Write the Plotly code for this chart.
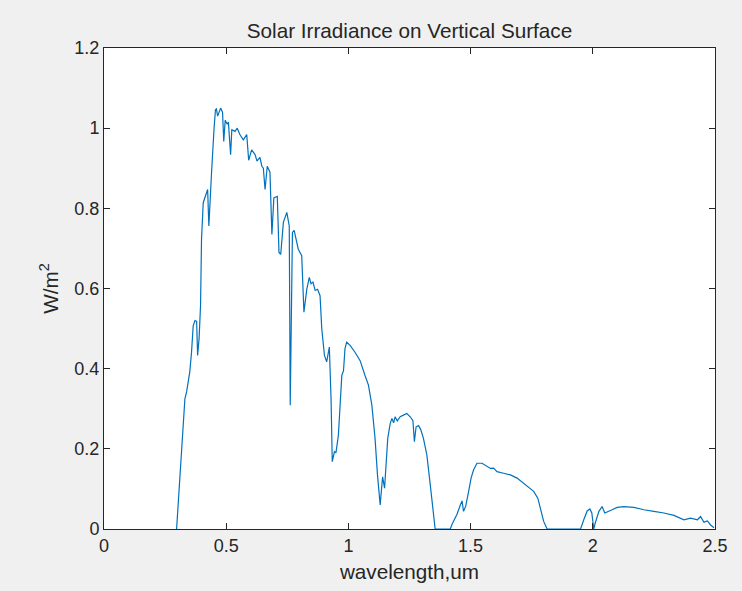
import plotly.graph_objects as go

wavelength = [0.297, 0.303, 0.318, 0.331, 0.338, 0.344, 0.351, 0.358, 0.365, 0.372, 0.379, 0.383,
              0.389, 0.395, 0.399, 0.406, 0.415, 0.424, 0.429, 0.433, 0.44, 0.45, 0.456, 0.46,
              0.465, 0.477, 0.485, 0.49, 0.496, 0.504, 0.509, 0.518, 0.523, 0.536, 0.545, 0.556,
              0.57, 0.584, 0.592, 0.604, 0.618, 0.626, 0.638, 0.646, 0.652, 0.659, 0.668, 0.679,
              0.687, 0.695, 0.709, 0.716, 0.723, 0.734, 0.748, 0.758, 0.762, 0.771, 0.778, 0.795,
              0.809, 0.818, 0.83, 0.84, 0.847, 0.855, 0.864, 0.874, 0.884, 0.891, 0.902, 0.911,
              0.922, 0.929, 0.934, 0.943, 0.949, 0.959, 0.966, 0.973, 0.98, 0.986, 0.993, 1.007,
              1.027, 1.048, 1.068, 1.082, 1.096, 1.109, 1.119, 1.127, 1.13, 1.137, 1.14, 1.148,
              1.155, 1.161, 1.171, 1.178, 1.185, 1.191, 1.2, 1.212, 1.225, 1.239, 1.253, 1.264,
              1.27, 1.277, 1.287, 1.296, 1.307, 1.321, 1.335, 1.344, 1.355, 1.38, 1.417, 1.424,
              1.444, 1.458, 1.465, 1.471, 1.48, 1.492, 1.502, 1.512, 1.526, 1.547, 1.567, 1.581,
              1.594, 1.608, 1.635, 1.663, 1.69, 1.717, 1.745, 1.758, 1.775, 1.786, 1.799, 1.813,
              1.85, 1.9, 1.95, 1.963, 1.977, 1.988, 1.996, 2.004, 2.01, 2.025, 2.038, 2.049,
              2.058, 2.079, 2.1, 2.127, 2.168, 2.209, 2.25, 2.291, 2.332, 2.373, 2.4, 2.428,
              2.441, 2.455, 2.469, 2.482, 2.496]

irradiance = [0.0, 0.06, 0.2, 0.325, 0.342, 0.367, 0.392, 0.44, 0.507, 0.52, 0.518, 0.433,
              0.475, 0.557, 0.723, 0.814, 0.83, 0.847, 0.756, 0.81, 0.889, 0.996, 1.046, 1.048,
              1.03, 1.05, 1.04, 0.967, 1.02, 1.01, 1.015, 0.934, 0.996, 0.992, 1.0, 0.984,
              0.971, 0.984, 0.92, 0.946, 0.934, 0.918, 0.927, 0.905, 0.9, 0.847, 0.905, 0.89,
              0.735, 0.826, 0.83, 0.69, 0.685, 0.765, 0.79, 0.756, 0.309, 0.74, 0.745, 0.698,
              0.682, 0.541, 0.599, 0.628, 0.612, 0.616, 0.595, 0.598, 0.582, 0.5, 0.433, 0.417,
              0.454, 0.325, 0.168, 0.193, 0.19, 0.234, 0.3, 0.383, 0.395, 0.45, 0.466, 0.458,
              0.441, 0.42, 0.383, 0.359, 0.309, 0.226, 0.135, 0.077, 0.06, 0.11, 0.13, 0.102,
              0.16, 0.226, 0.263, 0.276, 0.265, 0.28, 0.27, 0.28, 0.284, 0.288, 0.28, 0.27,
              0.218, 0.255, 0.258, 0.248, 0.226, 0.185, 0.11, 0.06, 0.0, 0.0, 0.0, 0.012,
              0.036, 0.06, 0.07, 0.044, 0.057, 0.094, 0.127, 0.147, 0.164, 0.164, 0.156, 0.151,
              0.152, 0.143, 0.139, 0.135, 0.127, 0.114, 0.102, 0.094, 0.077, 0.052, 0.019, 0.0,
              0.0, 0.0, 0.0, 0.023, 0.045, 0.05, 0.04, 0.0, 0.015, 0.044, 0.056, 0.04,
              0.043, 0.048, 0.054, 0.056, 0.054, 0.048, 0.044, 0.04, 0.034, 0.023, 0.027, 0.023,
              0.031, 0.017, 0.02, 0.01, 0.003]

x_ticks = [0, 0.5, 1, 1.5, 2, 2.5]
x_tick_labels = ["0", "0.5", "1", "1.5", "2", "2.5"]
y_ticks = [0, 0.2, 0.4, 0.6, 0.8, 1.0, 1.2]
y_tick_labels = ["0", "0.2", "0.4", "0.6", "0.8", "1", "1.2"]

axis_color = "#262626"
font_family = "Liberation Sans, Arial, sans-serif"

fig = go.Figure()
fig.add_trace(go.Scatter(
    x=wavelength, y=irradiance, mode="lines",
    line=dict(color="#0072BD", width=1.2),
    showlegend=False, hoverinfo="x+y",
))

fig.update_layout(
    width=742, height=591,
    paper_bgcolor="#f0f0f0", plot_bgcolor="white",
    margin=dict(l=104, r=27, t=48, b=58),
    font=dict(family=font_family, color=axis_color, size=18),
    title=dict(text="Solar Irradiance on Vertical Surface", x=0.5, xref="paper",
               y=1, yref="paper", yanchor="bottom", pad=dict(b=10),
               font=dict(size=20.7, color=axis_color, family=font_family)),
    xaxis=dict(
        range=[0, 2.5], tickvals=x_ticks, ticktext=x_tick_labels,
        ticks="inside", ticklen=6, tickcolor=axis_color, tickwidth=1,
        showline=True, linecolor=axis_color, linewidth=1, mirror="ticks",
        showgrid=False, zeroline=False,
        tickfont=dict(size=18, color=axis_color),
        title=dict(text="wavelength,um", font=dict(size=20.7, color=axis_color), standoff=9),
    ),
    yaxis=dict(
        range=[0, 1.2], tickvals=y_ticks, ticktext=y_tick_labels,
        ticks="inside", ticklen=6, tickcolor=axis_color, tickwidth=1,
        showline=True, linecolor=axis_color, linewidth=1, mirror="ticks",
        showgrid=False, zeroline=False,
        tickfont=dict(size=18, color=axis_color),
        title=dict(text="W/m<sup>2</sup>", font=dict(size=20.7, color=axis_color), standoff=10),
    ),
)

fig.write_html(
    "out.html",
    config={"displayModeBar": False},
    post_script="document.body.style.margin='0';document.body.style.background='#f0f0f0';",
)
